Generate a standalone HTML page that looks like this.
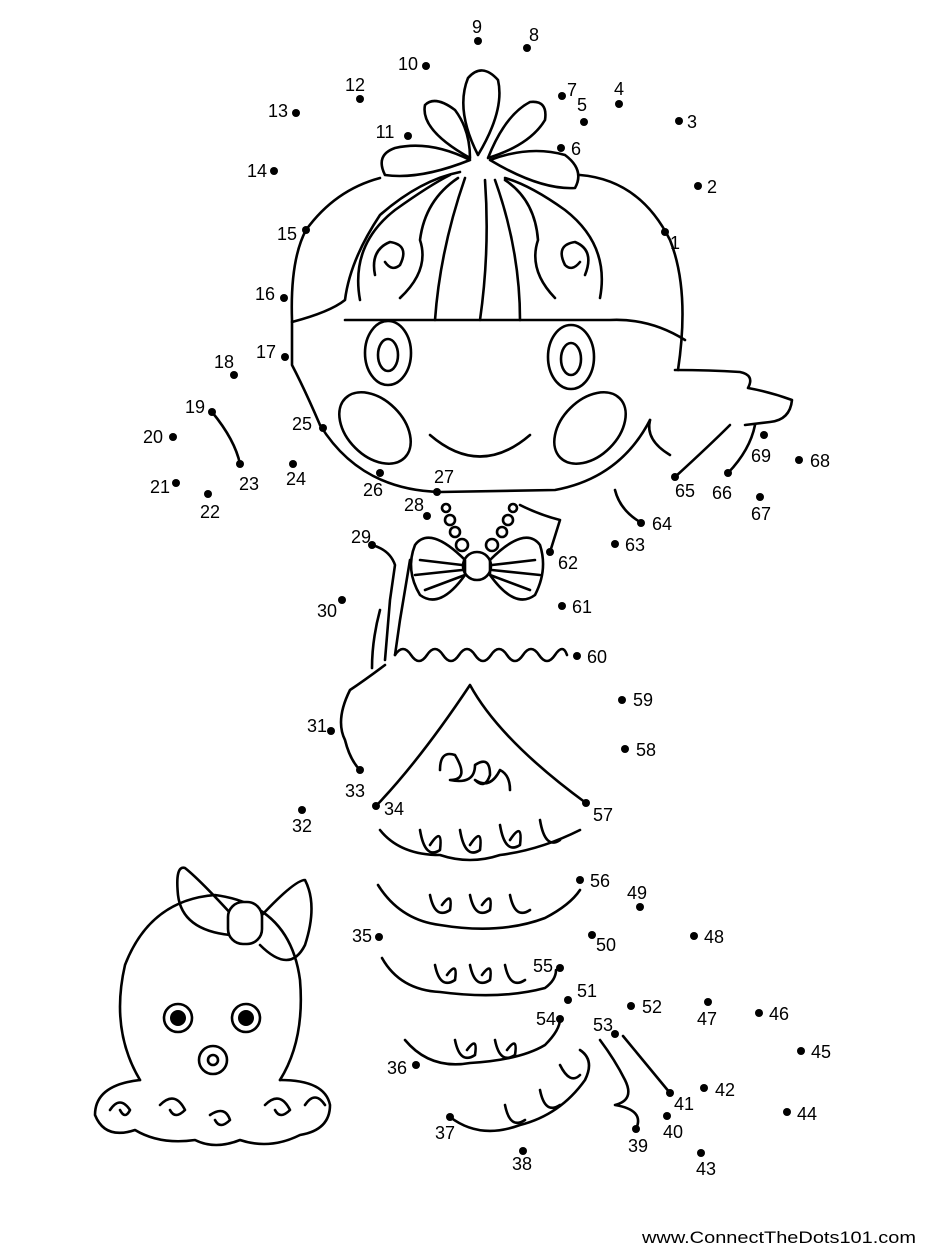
<!DOCTYPE html>
<html><head><meta charset="utf-8"><style>
html,body{margin:0;padding:0;background:#fff;width:927px;height:1250px;overflow:hidden}
svg{display:block}
text{font-family:"Liberation Sans",Arial,sans-serif;font-size:18px;fill:#000}
</style></head><body>
<svg width="927" height="1250" viewBox="0 0 927 1250" xmlns="http://www.w3.org/2000/svg">
<g fill="none" stroke="#000" stroke-width="2.6" stroke-linecap="round" stroke-linejoin="round">
<path d="M470,158 Q420,130 425,105 Q435,95 455,110 Q470,130 470,158Z"/>
<path d="M478,155 Q455,110 468,78 Q482,62 498,80 Q505,110 478,155Z"/>
<path d="M488,158 Q505,115 530,102 Q548,100 545,120 Q530,145 488,158Z"/>
<path d="M470,160 Q430,140 395,148 Q375,155 385,175 Q420,180 470,160Z"/>
<path d="M490,160 Q530,145 565,155 Q585,170 575,188 Q540,190 490,160Z"/>
<path d="M306,230 Q290,260 292,320 L292,365 Q305,390 320,425"/>
<path d="M580,175 Q640,180 670,240 Q690,290 678,370"/>
<path d="M380,178 Q335,190 306,230"/>
<path d="M292,322 Q330,312 345,300 Q350,260 380,215 Q420,180 460,172"/>
<path d="M345,320 L610,320 Q650,318 685,340"/>
<path d="M360,300 Q350,245 395,210 Q430,185 450,175"/>
<path d="M375,275 Q370,250 390,242 Q410,245 400,265 Q392,272 385,262"/>
<path d="M400,298 Q430,270 420,240 Q425,200 458,178"/>
<path d="M435,320 Q440,250 465,178"/>
<path d="M480,320 Q490,250 485,180"/>
<path d="M520,320 Q520,250 495,180"/>
<path d="M600,298 Q610,245 565,210 Q530,185 505,178"/>
<path d="M585,275 Q595,250 575,242 Q555,245 565,265 Q572,272 580,262"/>
<path d="M555,298 Q528,270 538,240 Q535,200 505,180"/>
<path d="M212,412 Q235,440 240,464"/>
<path d="M320,425 Q360,490 440,492 L555,490 Q620,478 650,420"/>
<ellipse cx="388" cy="353" rx="23" ry="32"/>
<ellipse cx="388" cy="355" rx="10" ry="16"/>
<ellipse cx="571" cy="357" rx="23" ry="32"/>
<ellipse cx="571" cy="359" rx="10" ry="16"/>
<ellipse cx="375" cy="428" rx="42" ry="28" transform="rotate(45 375 428)"/>
<ellipse cx="590" cy="428" rx="42" ry="28" transform="rotate(-45 590 428)"/>
<path d="M430,435 Q480,478 530,435"/>
<path d="M675,370 Q710,370 740,372 Q755,375 748,388 Q770,392 792,400 Q790,420 770,422 L745,425"/>
<path d="M650,420 Q645,440 670,455"/>
<path d="M675,477 Q710,445 730,425"/>
<path d="M728,473 Q750,450 755,425"/>
<path d="M615,490 Q620,510 640,522"/>
<path d="M520,505 Q540,515 560,520 L550,552"/>
<circle cx="446" cy="508" r="4"/><circle cx="450" cy="520" r="5"/><circle cx="455" cy="532" r="5"/><circle cx="462" cy="545" r="6"/>
<circle cx="513" cy="508" r="4"/><circle cx="508" cy="520" r="5"/><circle cx="502" cy="532" r="5"/><circle cx="492" cy="545" r="6"/>
<path d="M465,560 Q430,525 415,545 Q405,570 420,595 Q440,610 465,575Z"/>
<path d="M490,560 Q525,525 540,545 Q548,570 535,595 Q515,610 490,575Z"/>
<circle cx="477" cy="566" r="14"/>
<path d="M420,560 L462,565 M415,575 L462,570 M425,590 L465,575 M535,560 L492,565 M540,575 L492,570 M530,590 L490,575"/>
<path d="M372,545 Q390,550 395,565 L390,600 L385,660"/>
<path d="M410,560 L400,620 L395,655"/>
<path d="M380,610 Q372,640 372,668"/>
<path d="M395,655 q8,-12 16,0 t16,0 t16,0 t16,0 t16,0 t16,0 t16,0 t16,0 t16,0 t16,0 t12,0"/>
<path d="M385,665 Q365,680 350,690 Q335,720 345,740 Q350,760 360,770"/>
<path d="M376,806 Q420,760 470,685 Q500,740 586,803"/>
<path d="M440,770 q0,-20 15,-15 q15,25 -5,25 q25,5 25,-15 q15,-10 15,10 q-5,15 -15,5 q15,10 25,-10 q10,5 10,20"/>
<path d="M380,830 Q400,855 440,855 Q470,865 500,855 Q540,850 580,830"/>
<path d="M420,830 q5,30 20,20 q3,-25 -10,-5 M460,830 q5,30 20,20 q3,-25 -10,-5 M500,825 q5,30 20,20 q3,-25 -10,-5 M540,820 q5,30 20,20"/>
<path d="M378,885 Q400,920 440,925 Q500,935 545,918 Q570,905 580,890"/>
<path d="M430,895 q5,25 20,15 q3,-20 -8,-5 M470,895 q5,25 20,15 q3,-20 -8,-5 M510,895 q5,25 20,15"/>
<path d="M382,958 Q400,990 440,992 Q500,1000 545,988 Q556,980 556,970"/>
<path d="M435,965 q5,25 20,15 q3,-20 -8,-5 M470,965 q5,25 20,15 q3,-20 -8,-5 M505,965 q5,25 20,15"/>
<path d="M405,1040 Q430,1070 470,1063 Q520,1060 545,1045 Q560,1030 560,1019"/>
<path d="M455,1040 q5,25 20,15 q3,-20 -8,-5 M495,1040 q5,25 20,15 q3,-20 -8,-5"/>
<path d="M450,1117 Q480,1140 520,1125 Q560,1115 585,1080 Q595,1060 580,1050"/>
<path d="M505,1105 q5,25 20,15 M540,1090 q5,25 20,15 M560,1065 q10,20 20,10"/>
<path d="M600,1040 Q615,1060 625,1080 Q635,1100 615,1105 Q645,1110 636,1129"/>
<path d="M623,1036 L670,1093"/>
<path d="M140,1080 Q110,1030 125,965 Q150,900 215,895 Q290,905 300,980 Q305,1040 280,1080"/>
<path d="M232,915 Q200,880 185,868 Q175,865 178,895 Q182,930 230,935"/>
<path d="M262,915 Q295,880 305,880 Q318,905 305,945 Q290,975 260,945"/>
<rect x="228" y="902" width="34" height="42" rx="15" fill="#fff"/>
<circle cx="178" cy="1018" r="14"/><circle cx="246" cy="1018" r="14"/>
<circle cx="213" cy="1060" r="14"/><circle cx="213" cy="1060" r="5"/>
<path d="M140,1080 Q95,1085 95,1115 Q105,1140 135,1130 Q160,1145 195,1140 Q215,1150 240,1140 Q270,1150 300,1135 Q330,1130 330,1105 Q325,1080 280,1080"/>
<path d="M110,1110 q10,-15 20,0 q-5,10 -10,0 M160,1105 q15,-15 25,5 q-10,10 -15,0 M210,1115 q15,-10 20,5 q-10,10 -15,0 M265,1105 q15,-15 25,5 q-10,10 -15,0 M305,1105 q10,-15 20,0"/>
</g>
<g fill="#000">
<circle cx="178" cy="1018" r="8"/><circle cx="246" cy="1018" r="8"/>
</g>
<g fill="#000">
<circle cx="665" cy="232" r="4"/><circle cx="698" cy="186" r="4"/><circle cx="679" cy="121" r="4"/><circle cx="619" cy="104" r="4"/><circle cx="584" cy="122" r="4"/><circle cx="561" cy="148" r="4"/><circle cx="562" cy="96" r="4"/><circle cx="527" cy="48" r="4"/><circle cx="478" cy="41" r="4"/><circle cx="426" cy="66" r="4"/>
<circle cx="408" cy="136" r="4"/><circle cx="360" cy="99" r="4"/><circle cx="296" cy="113" r="4"/><circle cx="274" cy="171" r="4"/><circle cx="306" cy="230" r="4"/><circle cx="284" cy="298" r="4"/><circle cx="285" cy="357" r="4"/><circle cx="234" cy="375" r="4"/><circle cx="212" cy="412" r="4"/><circle cx="173" cy="437" r="4"/>
<circle cx="176" cy="483" r="4"/><circle cx="208" cy="494" r="4"/><circle cx="240" cy="464" r="4"/><circle cx="293" cy="464" r="4"/><circle cx="323" cy="428" r="4"/><circle cx="380" cy="473" r="4"/><circle cx="437" cy="492" r="4"/><circle cx="427" cy="516" r="4"/><circle cx="372" cy="545" r="4"/><circle cx="342" cy="600" r="4"/>
<circle cx="331" cy="731" r="4"/><circle cx="302" cy="810" r="4"/><circle cx="360" cy="770" r="4"/><circle cx="376" cy="806" r="4"/><circle cx="379" cy="937" r="4"/><circle cx="416" cy="1065" r="4"/><circle cx="450" cy="1117" r="4"/><circle cx="523" cy="1151" r="4"/><circle cx="636" cy="1129" r="4"/><circle cx="667" cy="1116" r="4"/>
<circle cx="670" cy="1093" r="4"/><circle cx="704" cy="1088" r="4"/><circle cx="701" cy="1153" r="4"/><circle cx="787" cy="1112" r="4"/><circle cx="801" cy="1051" r="4"/><circle cx="759" cy="1013" r="4"/><circle cx="708" cy="1002" r="4"/><circle cx="694" cy="936" r="4"/><circle cx="640" cy="907" r="4"/><circle cx="592" cy="935" r="4"/>
<circle cx="568" cy="1000" r="4"/><circle cx="631" cy="1006" r="4"/><circle cx="615" cy="1034" r="4"/><circle cx="560" cy="1019" r="4"/><circle cx="560" cy="968" r="4"/><circle cx="580" cy="880" r="4"/><circle cx="586" cy="803" r="4"/><circle cx="625" cy="749" r="4"/><circle cx="622" cy="700" r="4"/><circle cx="577" cy="656" r="4"/>
<circle cx="562" cy="606" r="4"/><circle cx="550" cy="552" r="4"/><circle cx="615" cy="544" r="4"/><circle cx="641" cy="523" r="4"/><circle cx="675" cy="477" r="4"/><circle cx="728" cy="473" r="4"/><circle cx="760" cy="497" r="4"/><circle cx="799" cy="460" r="4"/><circle cx="764" cy="435" r="4"/>
</g>
<g text-anchor="middle" dominant-baseline="central">
<text x="675" y="243">1</text><text x="712" y="187">2</text><text x="692" y="122">3</text><text x="619" y="89">4</text><text x="582" y="105">5</text><text x="576" y="149">6</text><text x="572" y="90">7</text><text x="534" y="35">8</text><text x="477" y="27">9</text><text x="408" y="64">10</text>
<text x="385" y="132">11</text><text x="355" y="85">12</text><text x="278" y="111">13</text><text x="257" y="171">14</text><text x="287" y="234">15</text><text x="265" y="294">16</text><text x="266" y="352">17</text><text x="224" y="362">18</text><text x="195" y="407">19</text><text x="153" y="437">20</text>
<text x="160" y="487">21</text><text x="210" y="512">22</text><text x="249" y="484">23</text><text x="296" y="479">24</text><text x="302" y="424">25</text><text x="373" y="490">26</text><text x="444" y="477">27</text><text x="414" y="505">28</text><text x="361" y="537">29</text><text x="327" y="611">30</text>
<text x="317" y="726">31</text><text x="302" y="826">32</text><text x="355" y="791">33</text><text x="394" y="809">34</text><text x="362" y="936">35</text><text x="397" y="1068">36</text><text x="445" y="1133">37</text><text x="522" y="1164">38</text><text x="638" y="1146">39</text><text x="673" y="1132">40</text>
<text x="684" y="1104">41</text><text x="725" y="1090">42</text><text x="706" y="1169">43</text><text x="807" y="1114">44</text><text x="821" y="1052">45</text><text x="779" y="1014">46</text><text x="707" y="1019">47</text><text x="714" y="937">48</text><text x="637" y="893">49</text><text x="606" y="945">50</text>
<text x="587" y="991">51</text><text x="652" y="1007">52</text><text x="603" y="1025">53</text><text x="546" y="1019">54</text><text x="543" y="966">55</text><text x="600" y="881">56</text><text x="603" y="815">57</text><text x="646" y="750">58</text><text x="643" y="700">59</text><text x="597" y="657">60</text>
<text x="582" y="607">61</text><text x="568" y="563">62</text><text x="635" y="545">63</text><text x="662" y="524">64</text><text x="685" y="491">65</text><text x="722" y="493">66</text><text x="761" y="514">67</text><text x="820" y="461">68</text><text x="761" y="456">69</text>
</g>
<text x="642" y="1243" textLength="274" lengthAdjust="spacingAndGlyphs" style="font-size:17px">www.ConnectTheDots101.com</text>
</svg>
</body></html>
